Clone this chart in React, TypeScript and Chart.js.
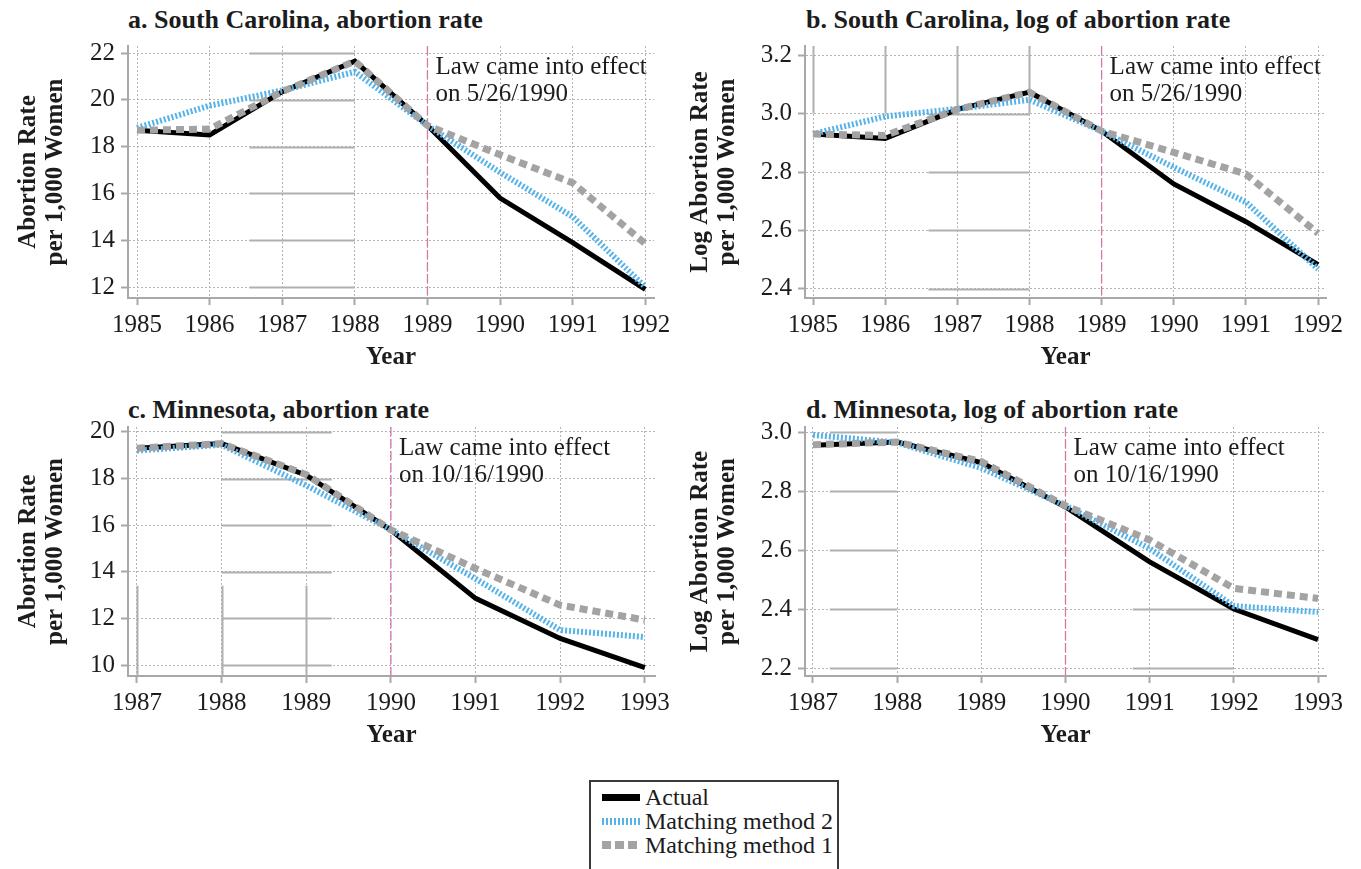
import React, { useEffect, useRef } from "react";
import { Chart, registerables } from "chart.js";

Chart.register(...registerables);

// ---------- data ----------
const yearsSC = [1985, 1986, 1987, 1988, 1989, 1990, 1991, 1992];
const scRateActual = [18.7, 18.5, 20.35, 21.65, 18.9, 15.8, 13.9, 11.9];
const scRateMatch2 = [18.8, 19.75, 20.4, 21.2, 18.9, 16.9, 15.0, 12.0];
const scRateMatch1 = [18.7, 18.75, 20.35, 21.65, 18.9, 17.65, 16.45, 13.85];
const scLogActual = [2.93, 2.915, 3.014, 3.073, 2.94, 2.759, 2.63, 2.483];
const scLogMatch2 = [2.93, 2.99, 3.016, 3.047, 2.94, 2.816, 2.697, 2.468];
const scLogMatch1 = [2.93, 2.925, 3.014, 3.073, 2.94, 2.867, 2.793, 2.59];

const yearsMN = [1987, 1988, 1989, 1990, 1991, 1992, 1993];
const mnRateActual = [19.3, 19.5, 18.14, 15.79, 12.86, 11.14, 9.89];
const mnRateMatch2 = [19.2, 19.45, 17.7, 15.8, 13.7, 11.5, 11.2];
const mnRateMatch1 = [19.3, 19.5, 18.17, 15.8, 14.14, 12.57, 11.93];
const mnLogActual = [2.955, 2.966, 2.896, 2.746, 2.56, 2.4, 2.296];
const mnLogMatch2 = [2.99, 2.964, 2.878, 2.75, 2.605, 2.41, 2.39];
const mnLogMatch1 = [2.957, 2.966, 2.9, 2.75, 2.634, 2.47, 2.436];

const scRateTicks = [12, 14, 16, 18, 20, 22];
const scLogTicks = [2.4, 2.6, 2.8, 3.0, 3.2];
const mnRateTicks = [10, 12, 14, 16, 18, 20];
const mnLogTicks = [2.2, 2.4, 2.6, 2.8, 3.0];

const seriesNames = ["Actual", "Matching method 2", "Matching method 1"];
const panelTitles = [
  "a. South Carolina, abortion rate",
  "b. South Carolina, log of abortion rate",
  "c. Minnesota, abortion rate",
  "d. Minnesota, log of abortion rate",
];
const rateTitle = ["Abortion Rate", "per 1,000 Women"];
const logTitle = ["Log Abortion Rate", "per 1,000 Women"];
const scLawYear = 1989;
const mnLawYear = 1990;
const scLawText = ["Law came into effect", "on 5/26/1990"];
const mnLawText = ["Law came into effect", "on 10/16/1990"];

// ---------- styles ----------
const SERIF = '"Liberation Serif", "Times New Roman", serif';
const TEXT = "#1c1c1c";
const GRID = "#b4b4b4";
const AXIS = "#a8a8a8";
const SOLID_GRID = "#b0b0b0";
const BLACK = "#000000";
const BLUE = "#56b3ea";
const GRAY = "#a3a3a3";
const LAW = "#d677a8";

Chart.defaults.font.family = SERIF;

const lawPlugin = {
  id: "law",
  beforeDatasetsDraw(chart: any, _args: any, opts: any) {
    const { ctx, chartArea, scales } = chart;
    const px = scales.x.getPixelForValue(opts.year);
    ctx.save();
    ctx.strokeStyle = LAW;
    ctx.lineWidth = 1.3;
    ctx.setLineDash([9, 3]);
    ctx.beginPath();
    ctx.moveTo(px, chartArea.top);
    ctx.lineTo(px, chartArea.bottom);
    ctx.stroke();
    ctx.setLineDash([]);
    ctx.font = `25px ${SERIF}`;
    ctx.fillStyle = TEXT;
    ctx.textBaseline = "middle";
    ctx.textAlign = "left";
    (opts.lines as string[]).forEach((t, i) => {
      ctx.fillText(t, px + 8, chartArea.top + 21 + i * 27);
    });
    ctx.restore();
  },
};

// solid grey grid segments that overlay the dotted grid in the original figure
const solidGridPlugin = {
  id: "solidGrid",
  beforeDatasetsDraw(chart: any, _args: any, opts: any) {
    const { ctx, scales } = chart;
    const { x, y } = scales;
    ctx.save();
    ctx.strokeStyle = SOLID_GRID;
    ctx.lineWidth = 2;
    ctx.beginPath();
    (opts.h || []).forEach((s: any) => {
      s.ys.forEach((v: number) => {
        const py = Math.round(y.getPixelForValue(v)) + 0.5;
        ctx.moveTo(x.getPixelForValue(s.x0), py);
        ctx.lineTo(x.getPixelForValue(s.x1), py);
      });
    });
    (opts.v || []).forEach((s: any) => {
      s.xs.forEach((v: number) => {
        const px = Math.round(x.getPixelForValue(v)) + 0.5;
        ctx.moveTo(px, y.getPixelForValue(s.y0));
        ctx.lineTo(px, y.getPixelForValue(s.y1));
      });
    });
    ctx.stroke();
    ctx.restore();
  },
};

type PanelCfg = {
  left: number;
  top: number;
  width: number;
  height: number;
  title: string;
  titleLeft: number;
  titleTop: number;
  years: number[];
  actual: number[];
  m2: number[];
  m1: number[];
  yTicks: number[];
  decimals: number;
  xMin: number;
  xMax: number;
  yMin: number;
  yMax: number;
  yTitle: string[];
  yTitlePad: number;
  lawYear: number;
  lawText: string[];
  padTop: number;
  padRight: number;
  yWidth: number;
  xHeight: number;
  xTitlePad: number;
  solid: any;
};

function Panel({ cfg }: { cfg: PanelCfg }) {
  const ref = useRef<HTMLCanvasElement>(null);
  useEffect(() => {
    const pts = (arr: number[]) => cfg.years.map((x, i) => ({ x, y: arr[i] }));
    const tickFont = { family: SERIF, size: 25 };
    const chart = new Chart(ref.current as HTMLCanvasElement, {
      type: "line",
      data: {
        datasets: [
          {
            label: seriesNames[2],
            data: pts(cfg.m1),
            borderColor: GRAY,
            borderWidth: 7,
            borderDash: [8, 5],
            pointRadius: 0,
            tension: 0,
          },
          {
            label: seriesNames[1],
            data: pts(cfg.m2),
            borderColor: BLUE,
            borderWidth: 6,
            borderDash: [2, 2],
            pointRadius: 0,
            tension: 0,
          },
          {
            label: seriesNames[0],
            data: pts(cfg.actual),
            borderColor: BLACK,
            borderWidth: 5,
            pointRadius: 0,
            tension: 0,
          },
        ],
      },
      options: {
        responsive: false,
        animation: false,
        devicePixelRatio: 1,
        font: { family: SERIF },
        layout: { padding: { left: 0, top: cfg.padTop, right: cfg.padRight, bottom: 0 } },
        plugins: {
          legend: { display: false },
          tooltip: { enabled: false },
          title: { display: false },
          law: { year: cfg.lawYear, lines: cfg.lawText },
          solidGrid: cfg.solid,
        } as any,
        scales: {
          x: {
            type: "linear",
            min: cfg.xMin,
            max: cfg.xMax,
            afterBuildTicks: (s: any) => {
              s.ticks = cfg.years.map((v) => ({ value: v }));
            },
            afterFit: (s: any) => {
              s.height = cfg.xHeight;
              s.paddingLeft = 0;
              s.paddingRight = 0;
            },
            ticks: {
              autoSkip: false,
              maxRotation: 0,
              padding: 5,
              color: TEXT,
              font: tickFont,
              callback: (v: any) => String(v),
            },
            grid: {
              color: GRID,
              lineWidth: 1,
              tickLength: 7,
              tickColor: AXIS,
              tickWidth: 2,
            },
            border: { display: true, color: AXIS, width: 2, dash: [2, 2] },
            title: {
              display: true,
              text: "Year",
              color: TEXT,
              font: { family: SERIF, size: 25, weight: "bold", lineHeight: 1.1 },
              padding: { top: 0, bottom: cfg.xTitlePad },
            },
          },
          y: {
            type: "linear",
            min: cfg.yMin,
            max: cfg.yMax,
            afterBuildTicks: (s: any) => {
              s.ticks = cfg.yTicks.map((v) => ({ value: v }));
            },
            afterFit: (s: any) => {
              s.width = cfg.yWidth;
              s.paddingTop = 0;
              s.paddingBottom = 0;
            },
            ticks: {
              padding: 6,
              color: TEXT,
              font: tickFont,
              callback: (v: any) => Number(v).toFixed(cfg.decimals),
            },
            grid: {
              color: GRID,
              lineWidth: 1,
              tickLength: 7,
              tickColor: AXIS,
              tickWidth: 2,
            },
            border: { display: true, color: AXIS, width: 2, dash: [2, 2] },
            title: {
              display: true,
              text: cfg.yTitle,
              color: TEXT,
              font: { family: SERIF, size: 25, weight: "bold", lineHeight: 1.08 },
              padding: { top: cfg.yTitlePad, bottom: 0 },
            },
          },
        },
      },
      plugins: [solidGridPlugin, lawPlugin],
    } as any);
    return () => chart.destroy();
  }, []);
  return (
    <>
      <div
        style={{
          position: "absolute",
          left: cfg.titleLeft,
          top: cfg.titleTop,
          font: `bold 26px ${SERIF}`,
          lineHeight: "30px",
          color: TEXT,
          whiteSpace: "nowrap",
        }}
      >
        {cfg.title}
      </div>
      <canvas
        ref={ref}
        width={cfg.width}
        height={cfg.height}
        style={{
          position: "absolute",
          left: cfg.left,
          top: cfg.top,
          width: cfg.width,
          height: cfg.height,
        }}
      />
    </>
  );
}

const panels: PanelCfg[] = [
  {
    left: 0, top: 0, width: 680, height: 380,
    title: panelTitles[0], titleLeft: 128, titleTop: 5,
    years: yearsSC, actual: scRateActual, m2: scRateMatch2, m1: scRateMatch1,
    yTicks: scRateTicks, decimals: 0,
    xMin: 1984.876, xMax: 1992.12, yMin: 11.53, yMax: 22.3,
    yTitle: rateTitle, yTitlePad: 15,
    lawYear: scLawYear, lawText: scLawText,
    padTop: 46, padRight: 26, yWidth: 128, xHeight: 82, xTitlePad: 9,
    solid: { h: [{ x0: 1986.55, x1: 1988, ys: scRateTicks }], v: [] },
  },
  {
    left: 680, top: 0, width: 681, height: 380,
    title: panelTitles[1], titleLeft: 806, titleTop: 5,
    years: yearsSC, actual: scLogActual, m2: scLogMatch2, m1: scLogMatch1,
    yTicks: scLogTicks, decimals: 1,
    xMin: 1984.889, xMax: 1992.11, yMin: 2.369, yMax: 3.231,
    yTitle: logTitle, yTitlePad: 7,
    lawYear: scLawYear, lawText: scLawText,
    padTop: 46, padRight: 35, yWidth: 125, xHeight: 82, xTitlePad: 9,
    solid: {
      h: [{ x0: 1986.6, x1: 1988, ys: [2.4, 2.6, 2.8, 3.0] }],
      v: [{ xs: [1985, 1986, 1987, 1988], y0: 3.0, y1: 3.231 }],
    },
  },
  {
    left: 0, top: 380, width: 680, height: 380,
    title: panelTitles[2], titleLeft: 128, titleTop: 395,
    years: yearsMN, actual: mnRateActual, m2: mnRateMatch2, m1: mnRateMatch1,
    yTicks: mnRateTicks, decimals: 0,
    xMin: 1986.894, xMax: 1993.12, yMin: 9.53, yMax: 20.21,
    yTitle: rateTitle, yTitlePad: 15,
    lawYear: mnLawYear, lawText: mnLawText,
    padTop: 47, padRight: 25, yWidth: 128, xHeight: 84, xTitlePad: 11,
    solid: {
      h: [{ x0: 1988, x1: 1989.3, ys: mnRateTicks }],
      v: [{ xs: [1987, 1988, 1989], y0: 9.53, y1: 13.4 }],
    },
  },
  {
    left: 680, top: 380, width: 681, height: 380,
    title: panelTitles[3], titleLeft: 806, titleTop: 395,
    years: yearsMN, actual: mnLogActual, m2: mnLogMatch2, m1: mnLogMatch1,
    yTicks: mnLogTicks, decimals: 1,
    xMin: 1986.905, xMax: 1993.095, yMin: 2.173, yMax: 3.017,
    yTitle: logTitle, yTitlePad: 7,
    lawYear: mnLawYear, lawText: mnLawText,
    padTop: 47, padRight: 35, yWidth: 125, xHeight: 84, xTitlePad: 11,
    solid: {
      h: [
        { x0: 1987.2, x1: 1988, ys: mnLogTicks },
        { x0: 1990.8, x1: 1992, ys: [2.2, 2.4] },
      ],
      v: [],
    },
  },
];

function Swatch({ kind }: { kind: number }) {
  const base: React.CSSProperties = { width: 38, height: 7, display: "inline-block", marginRight: 5 };
  if (kind === 0) return <span style={{ ...base, background: BLACK }} />;
  if (kind === 1)
    return (
      <span
        style={{
          ...base,
          background: `repeating-linear-gradient(90deg, ${BLUE} 0 2px, transparent 2px 4px)`,
        }}
      />
    );
  return (
    <span
      style={{
        ...base,
        height: 8,
        background: `repeating-linear-gradient(90deg, ${GRAY} 0 9px, transparent 9px 13px)`,
      }}
    />
  );
}

function Legend() {
  return (
    <div
      style={{
        position: "absolute",
        left: 589,
        top: 780,
        width: 250,
        height: 92,
        border: "2px solid #3a3a3a",
        boxSizing: "border-box",
        padding: "3px 0 0 11px",
        font: `24px ${SERIF}`,
        color: TEXT,
        background: "#fff",
      }}
    >
      {[0, 1, 2].map((k) => (
        <div key={k} style={{ display: "flex", alignItems: "center", height: 24, whiteSpace: "nowrap" }}>
          <Swatch kind={k} />
          <span>{seriesNames[k]}</span>
        </div>
      ))}
    </div>
  );
}

export default function App() {
  return (
    <div
      style={{
        position: "absolute",
        left: 0,
        top: 0,
        width: 1361,
        height: 869,
        background: "#fff",
        overflow: "hidden",
      }}
    >
      {panels.map((p, i) => (
        <Panel key={i} cfg={p} />
      ))}
      <Legend />
    </div>
  );
}
